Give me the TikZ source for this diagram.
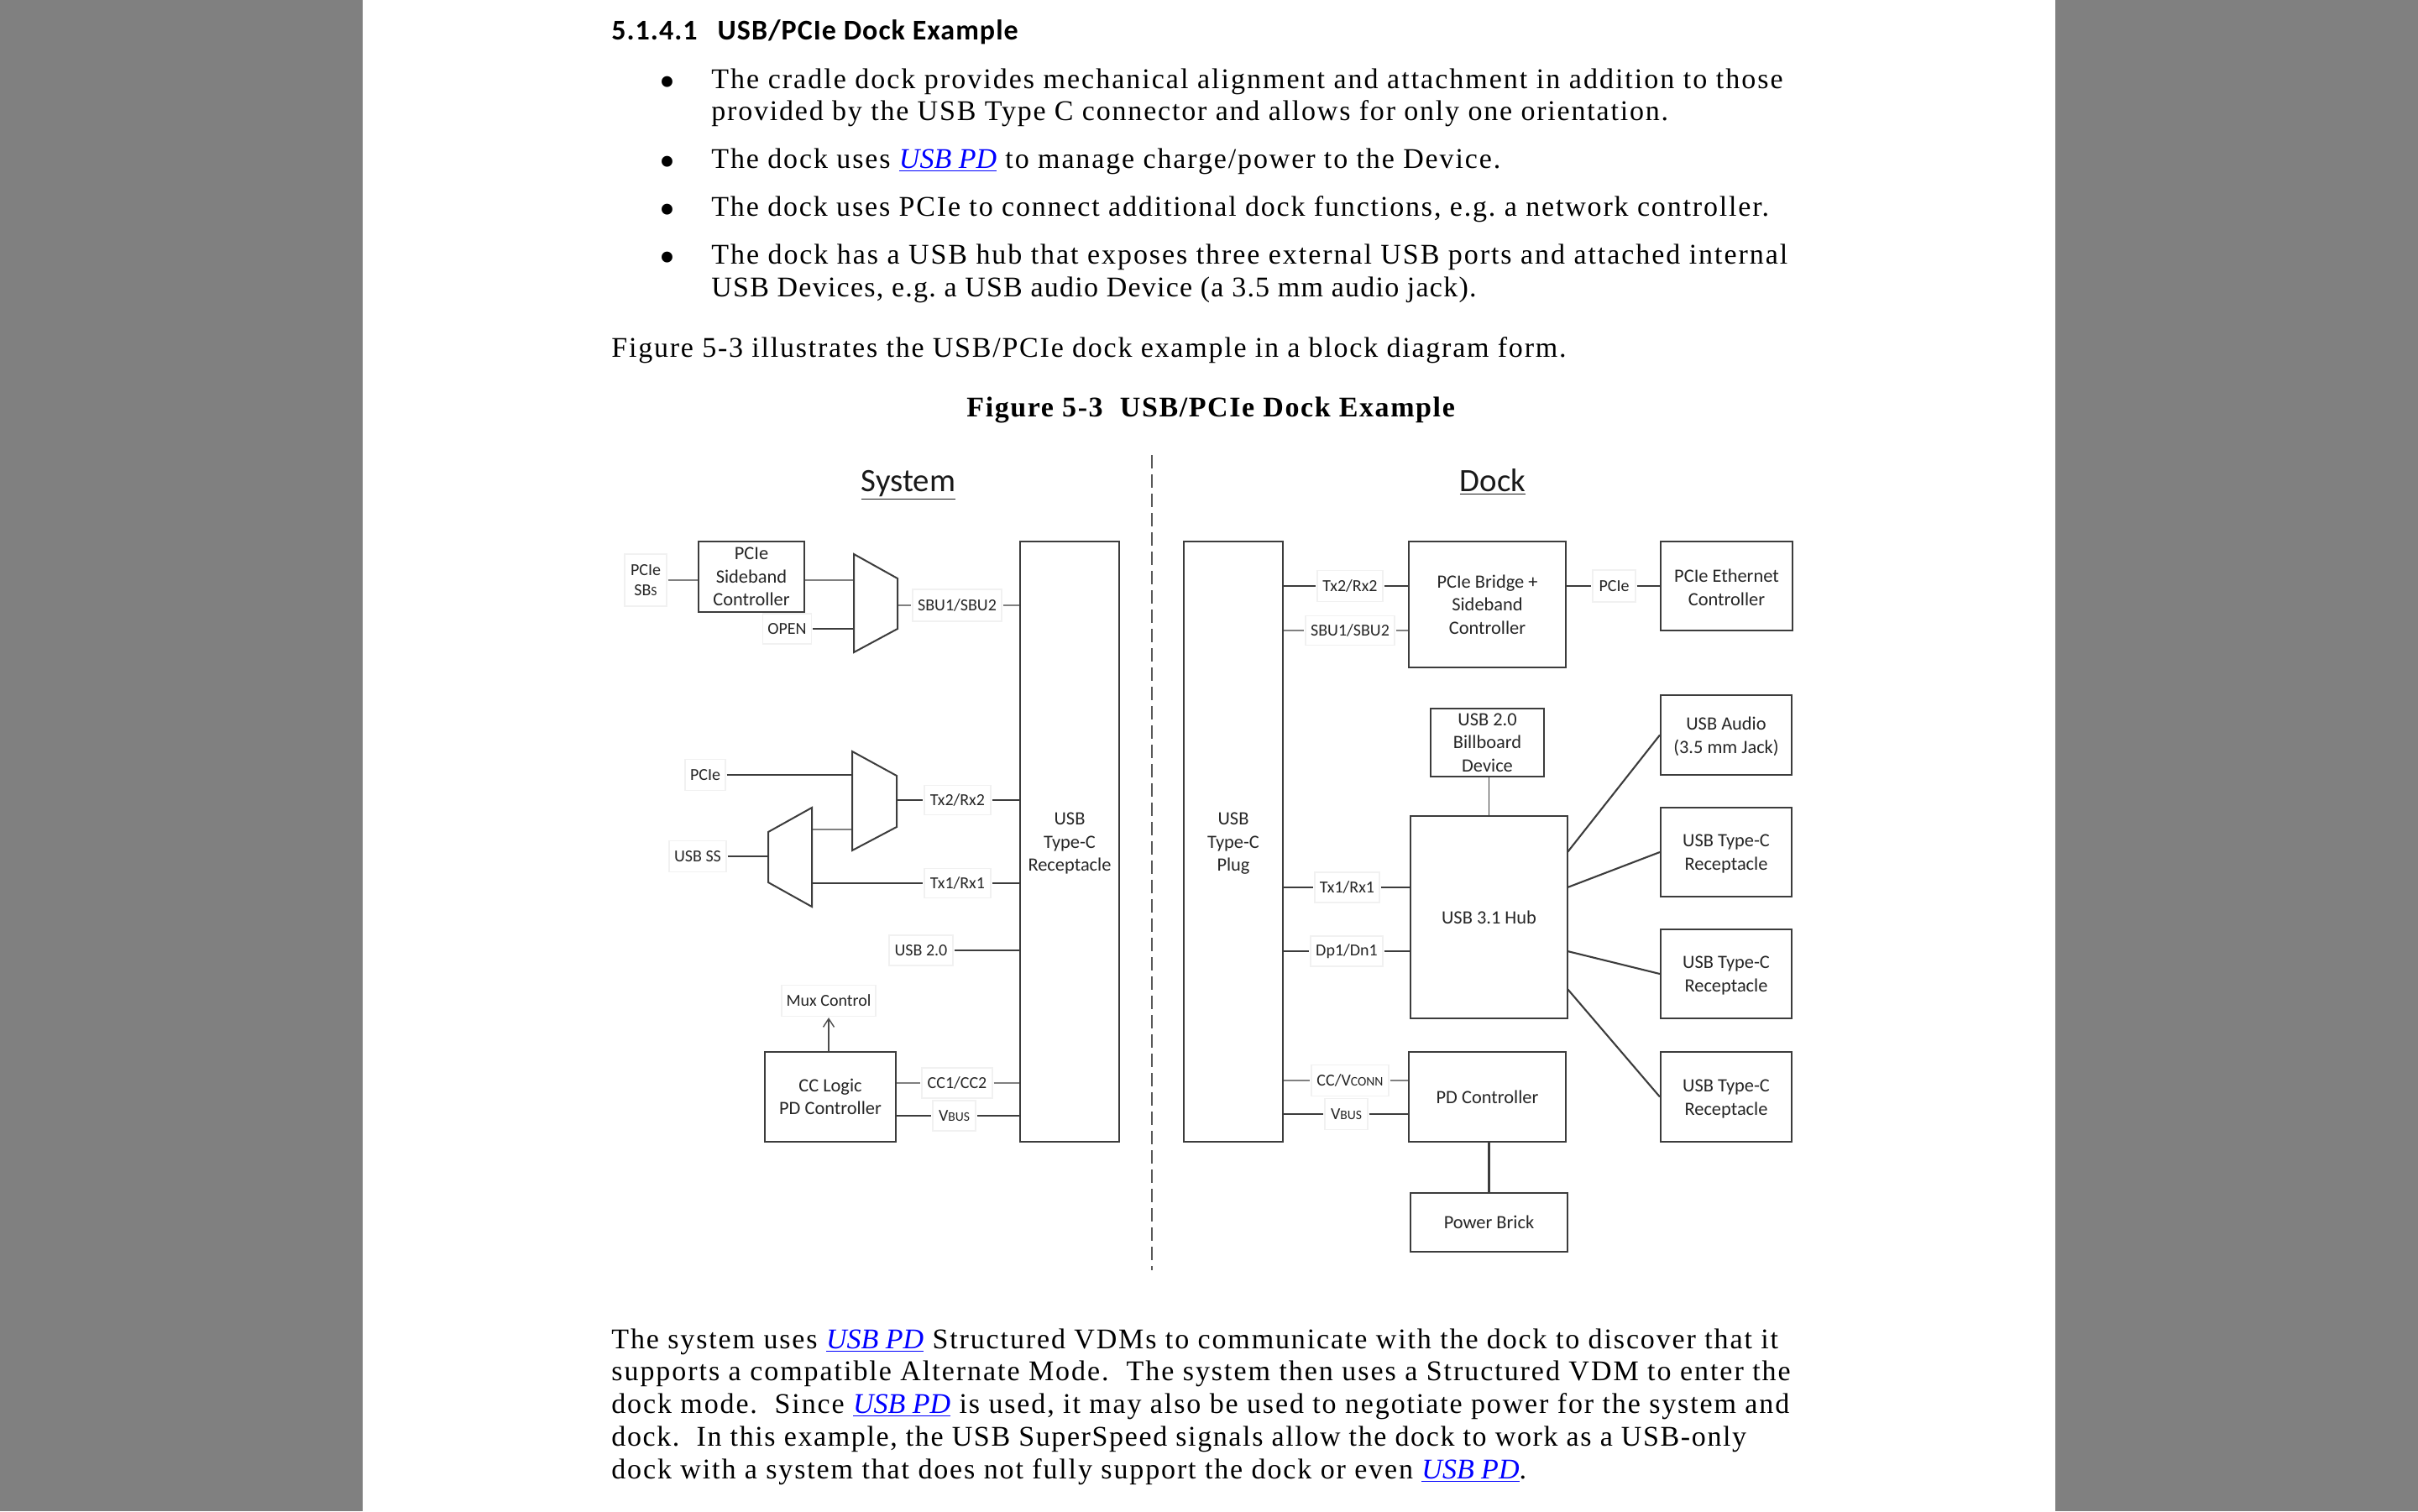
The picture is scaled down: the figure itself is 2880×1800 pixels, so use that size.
\documentclass[tikz,border=0pt]{standalone}
\usepackage{fontspec}
\setmainfont{Carlito}
\newfontfamily\bodyfont[LetterSpace=5.5]{Liberation Serif}
\newfontfamily\capfont[LetterSpace=4.7]{Liberation Serif}
\newfontfamily\headfont[LetterSpace=3]{Carlito}
\usetikzlibrary{arrows.meta}
\definecolor{inkgray}{HTML}{3C3C3C}
\definecolor{framegray}{HTML}{F1F1F1}
\definecolor{pagegray}{HTML}{808080}
\newcommand{\pdlink}{\textcolor{blue}{\underline{\addfontfeature{LetterSpace=0}\textit{USB PD}}}}
\newcommand{\lsp}[1]{\addfontfeature{LetterSpace=#1}}
\newcommand{\smc}[1]{{\fontsize{7.8}{9}\selectfont #1}}
\newcommand{\lo}{\rule{0pt}{9.5pt}}
\tikzset{
  blk/.style={draw=inkgray, line width=1.05pt, fill=white, align=center, inner sep=0pt, text=black!85,
    font=\fontsize{11.2}{13.8}\selectfont},
  lbl/.style={draw=framegray, line width=.6pt, fill=white, align=center, inner sep=0pt, outer sep=.8pt, text=black!85,
    font=\fontsize{10}{12.4}\selectfont},
  wire/.style={draw=inkgray, line width=1.05pt},
  wirelt/.style={draw=black!50, line width=.8pt},
  muxline/.style={draw=inkgray, line width=1pt, fill=white, line join=miter},
  ttl/.style={anchor=base, font=\fontsize{19.4}{22}\selectfont, text=black!90, inner sep=0pt},
  bodyline/.style={anchor=base west, inner sep=0pt, font=\frenchspacing\bodyfont\fontsize{17}{19}\selectfont},
  dotmark/.style={anchor=base, inner sep=0pt, font=\bodyfont\fontsize{27}{28}\selectfont},
  headline/.style={anchor=base west, inner sep=0pt, font=\headfont\bfseries\fontsize{17}{19}\selectfont},
  capline/.style={anchor=base west, inner sep=0pt, font=\capfont\bfseries\fontsize{17}{19}\selectfont}
}
\begin{document}
\begin{tikzpicture}[x=.5pt, y=-.5pt]
\useasboundingbox (0,0) rectangle (2880,1800);
\fill[white] (0,0) rectangle (2880,1800);
\fill[pagegray] (0,0) rectangle (432,1800);
\fill[pagegray] (2448,0) rectangle (2880,1800);

\node[headline] (secHead) at (728,47) {5.1.4.1\hspace{12pt}USB/PCIe Dock Example};
\node[dotmark] (dotA) at (795,115) {•};
\node[bodyline] (itemAa) at (847,105) {\lsp{5.9}The cradle dock provides mechanical alignment and attachment in addition to those};
\node[bodyline] (itemAb) at (847,143) {\lsp{5.3}provided by the USB Type C connector and allows for only one orientation.};
\node[dotmark] (dotB) at (795,210) {•};
\node[bodyline] (itemB) at (847,200) {The dock uses \pdlink{} to manage charge/power to the Device.};
\node[dotmark] (dotC) at (795,267) {•};
\node[bodyline] (itemC) at (847,257) {\lsp{5.4}The dock uses PCIe to connect additional dock functions, e.g. a network controller.};
\node[dotmark] (dotD) at (795,324) {•};
\node[bodyline] (itemDa) at (847,314) {\lsp{5.7}The dock has a USB hub that exposes three external USB ports and attached internal};
\node[bodyline] (itemDb) at (847,353) {\lsp{3.6}USB Devices, e.g. a USB audio Device (a 3.5 mm audio jack).};
\node[bodyline] (introLine) at (728,425) {\lsp{5.2}Figure 5-3 illustrates the USB/PCIe dock example in a block diagram form.};
\node[capline] (figHead) at (1151,496) {Figure 5-3\ \ USB/PCIe Dock Example};

\node[ttl] (sysTtl) at (1082,585) {\underline{System}};
\node[ttl] (dockTtl) at (1778,585) {\underline{Dock}};
\coordinate (dashTop) at (1372,542);
\coordinate (dashBot) at (1372,1513);
\draw[draw=black!65, line width=1.1pt, dash pattern=on 8pt off 3.5pt] (dashTop) -- (dashBot);

% system side
\node[blk, minimum width=59pt, minimum height=357.5pt] (rcpt) at (1274,1002.5) {\lo USB\\Type-C\\Receptacle};
\node[blk, minimum width=63pt, minimum height=42pt] (sbCtrl) at (895,687) {PCIe\\Sideband\\Controller};
\node[blk, minimum width=78pt, minimum height=53.5pt] (ccPd) at (989,1306.5) {CC Logic\\PD Controller};

\node[lbl, minimum width=25pt, minimum height=31pt] (pcieSb) at (769,691) {PCIe\\SB\smc{S}};
\node[lbl, minimum width=29pt, minimum height=18pt] (openLbl) at (937.5,749) {OPEN};
\node[lbl, minimum width=53pt, minimum height=19pt] (sbuS) at (1140,721) {SBU1/SBU2};
\node[lbl, minimum width=24pt, minimum height=18.5pt] (pcieS) at (840,923) {PCIe};
\node[lbl, minimum width=34pt, minimum height=18.5pt] (ssS) at (831,1020) {USB SS};
\node[lbl, minimum width=39.5pt, minimum height=17.5pt] (txTwoS) at (1140.5,953) {Tx2/Rx2};
\node[lbl, minimum width=39.5pt, minimum height=17.5pt] (txOneS) at (1140.5,1052) {Tx1/Rx1};
\node[lbl, minimum width=38pt, minimum height=18pt] (usbTwoS) at (1097,1132) {USB 2.0};
\node[lbl, minimum width=56pt, minimum height=18.5pt] (muxCtl) at (987,1192) {Mux Control};
\node[lbl, minimum width=42pt, minimum height=18pt] (ccS) at (1140,1290) {CC1/CC2};
\node[lbl, minimum width=25.5pt, minimum height=18pt] (vbusS) at (1136.5,1329) {V\smc{BUS}};

\coordinate (muxAnw) at (1017,660);
\coordinate (muxAne) at (1069,689);
\coordinate (muxAse) at (1069,749);
\coordinate (muxAsw) at (1017,777);
\coordinate (muxBnw) at (1015,895);
\coordinate (muxBne) at (1068,924);
\coordinate (muxBse) at (1068,985);
\coordinate (muxBsw) at (1015,1013);
\coordinate (muxBin) at (1015,988);
\coordinate (muxCne) at (967,962);
\coordinate (muxCnw) at (915,991);
\coordinate (muxCsw) at (915,1051);
\coordinate (muxCse) at (967,1080);

\draw[wirelt] (pcieSb.east) -- (pcieSb.east -| sbCtrl.west);
\draw[wirelt] (sbCtrl.east |- pcieSb.east) -- (pcieSb.east -| muxAnw);
\draw[wire] (openLbl.east) -- (openLbl.east -| muxAnw);
\draw[wirelt] (sbuS.west -| muxAne) -- (sbuS.west);
\draw[wirelt] (sbuS.east) -- (sbuS.east -| rcpt.west);
\draw[wire] (pcieS.east) -- (pcieS.east -| muxBnw);
\draw[wire] (txTwoS.west -| muxBne) -- (txTwoS.west);
\draw[wire] (txTwoS.east) -- (txTwoS.east -| rcpt.west);
\draw[wire] (ssS.east) -- (ssS.east -| muxCnw);
\draw[wirelt] (muxBin -| muxCne) -- (muxBin);
\draw[wire] (txOneS.west -| muxCne) -- (txOneS.west);
\draw[wire] (txOneS.east) -- (txOneS.east -| rcpt.west);
\draw[wire] (usbTwoS.east) -- (usbTwoS.east -| rcpt.west);
\draw[wirelt] (ccS.west -| ccPd.east) -- (ccS.west);
\draw[wirelt] (ccS.east) -- (ccS.east -| rcpt.west);
\draw[wire] (vbusS.west -| ccPd.east) -- (vbusS.west);
\draw[wire] (vbusS.east) -- (vbusS.east -| rcpt.west);
\draw[wirelt, draw=black!70, line width=.7pt, -{Straight Barb[length=5pt, width=6.5pt]}] (ccPd.north -| muxCtl.south) -- (muxCtl.south);

\draw[muxline] (muxAnw) -- (muxAne) -- (muxAse) -- (muxAsw) -- cycle;
\draw[muxline] (muxBnw) -- (muxBne) -- (muxBse) -- (muxBsw) -- cycle;
\draw[muxline] (muxCne) -- (muxCnw) -- (muxCsw) -- (muxCse) -- cycle;

% dock side
\node[blk, minimum width=59pt, minimum height=357.5pt] (plug) at (1469,1002.5) {\lo USB\\Type-C\\Plug};
\node[blk, minimum width=93.5pt, minimum height=75pt] (bridge) at (1771.5,720) {PCIe Bridge +\\Sideband\\Controller};
\node[blk, minimum width=78.5pt, minimum height=53pt] (ethCtl) at (2056.5,698) {\lo PCIe Ethernet\\Controller};
\node[blk, minimum width=67.5pt, minimum height=40.5pt] (bboard) at (1771.5,884.5) {USB 2.0\\Billboard\\Device};
\node[blk, minimum width=93.5pt, minimum height=120.5pt] (hub) at (1773.5,1092.5) {USB 3.1 Hub};
\node[blk, minimum width=93.5pt, minimum height=53.5pt] (pdCtl) at (1771.5,1306.5) {PD Controller};
\node[blk, minimum width=93.5pt, minimum height=35pt] (brick) at (1773.5,1456) {Power Brick};
\node[blk, minimum width=78pt, minimum height=47.5pt] (audio) at (2056,875.5) {\lo USB Audio\\(3.5 mm Jack)};
\node[blk, minimum width=78pt, minimum height=53pt] (recA) at (2056,1015) {\lo USB Type-C\\Receptacle};
\node[blk, minimum width=78pt, minimum height=53pt] (recB) at (2056,1160) {\lo USB Type-C\\Receptacle};
\node[blk, minimum width=78pt, minimum height=53.5pt] (recC) at (2056,1306.5) {\lo USB Type-C\\Receptacle};

\node[lbl, minimum width=39pt, minimum height=18.5pt] (txTwoD) at (1608,698) {Tx2/Rx2};
\node[lbl, minimum width=53pt, minimum height=17.5pt] (sbuD) at (1608,751) {SBU1/SBU2};
\node[lbl, minimum width=25.5pt, minimum height=19pt] (pcieD) at (1922.5,698) {PCIe};
\node[lbl, minimum width=38.5pt, minimum height=18pt] (txOneD) at (1604.5,1057) {Tx1/Rx1};
\node[lbl, minimum width=43pt, minimum height=18pt] (dpD) at (1604,1133) {Dp1/Dn1};
\node[lbl, minimum width=46pt, minimum height=18.5pt] (ccD) at (1608,1287) {CC/V\smc{CONN}};
\node[lbl, minimum width=25.5pt, minimum height=18.5pt] (vbusD) at (1603.5,1327) {V\smc{BUS}};

\coordinate (hubPa) at (1867,1015);
\coordinate (hubPb) at (1867,1057);
\coordinate (hubPc) at (1867,1133);
\coordinate (hubPd) at (1867,1178);

\draw[wire] (txTwoD.west -| plug.east) -- (txTwoD.west);
\draw[wire] (txTwoD.east) -- (txTwoD.east -| bridge.west);
\draw[wirelt] (sbuD.west -| plug.east) -- (sbuD.west);
\draw[wirelt] (sbuD.east) -- (sbuD.east -| bridge.west);
\draw[wire] (pcieD.west -| bridge.east) -- (pcieD.west);
\draw[wire] (pcieD.east) -- (pcieD.east -| ethCtl.west);
\draw[wire] (txOneD.west -| plug.east) -- (txOneD.west);
\draw[wire] (txOneD.east) -- (txOneD.east -| hub.west);
\draw[wire] (dpD.west -| plug.east) -- (dpD.west);
\draw[wire] (dpD.east) -- (dpD.east -| hub.west);
\draw[wirelt] (ccD.west -| plug.east) -- (ccD.west);
\draw[wirelt] (ccD.east) -- (ccD.east -| pdCtl.west);
\draw[wire] (vbusD.west -| plug.east) -- (vbusD.west);
\draw[wire] (vbusD.east) -- (vbusD.east -| pdCtl.west);
\draw[wirelt, draw=inkgray] (bboard.south -| hub.north) -- (hub.north);
\draw[wire] (pdCtl.south -| brick.north) -- (brick.north);
\draw[wire] (hubPa) -- (audio.west);
\draw[wire] (hubPb) -- (recA.west);
\draw[wire] (hubPc) -- (recB.west);
\draw[wire] (hubPd) -- (recC.west);

\node[bodyline] (paraA) at (728,1606) {The system uses \pdlink{} Structured VDMs to communicate with the dock to discover that it};
\node[bodyline] (paraB) at (728,1644) {\lsp{5.75}supports a compatible Alternate Mode.\ \ The system then uses a Structured VDM to enter the};
\node[bodyline] (paraC) at (728,1683) {dock mode.\ \ Since \pdlink{} is used, it may also be used to negotiate power for the system and};
\node[bodyline] (paraD) at (728,1722) {\lsp{4.75}dock.\ \ In this example, the USB SuperSpeed signals allow the dock to work as a USB-only};
\node[bodyline] (paraE) at (728,1761) {dock with a system that does not fully support the dock or even \pdlink{}.};
\end{tikzpicture}
\end{document}
